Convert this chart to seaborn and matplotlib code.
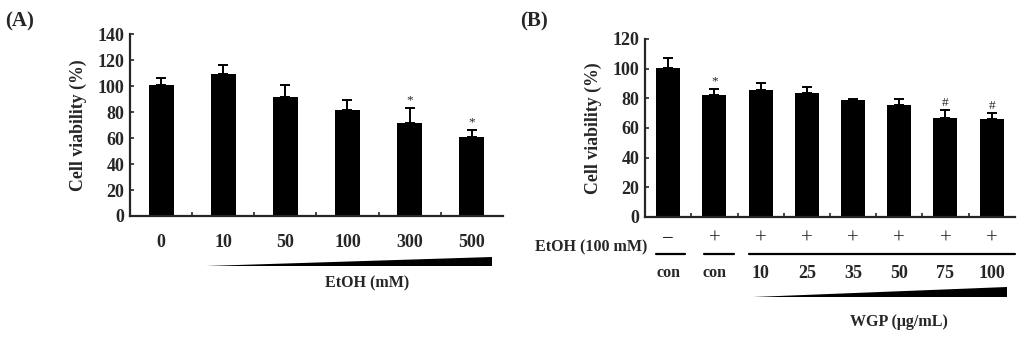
import numpy as np
import pandas as pd
import matplotlib
matplotlib.use('Agg')
import matplotlib.pyplot as plt
import matplotlib.transforms as mtransforms
import seaborn as sns

# panel A data
doses_a = ['0', '10', '50', '100', '300', '500']
mean_a = [100.5, 109.5, 91.5, 81.5, 71.5, 61.0]
sd_a = [5.5, 6.5, 9.0, 7.5, 12.0, 5.5]
mark_a = ['', '', '', '', '*', '*']

# panel B data
groups_b = ['con-', 'con+', '10', '25', '35', '50', '75', '100']
labels_b = ['con', 'con', '10', '25', '35', '50', '75', '100']
etoh_b = ['\u2212', '+', '+', '+', '+', '+', '+', '+']
mean_b = [100.5, 82.0, 85.5, 83.5, 78.5, 75.5, 66.5, 66.0]
sd_b = [6.5, 4.5, 4.5, 4.0, 1.0, 4.0, 5.5, 4.0]
mark_b = ['', '*', '', '', '', '', '#', '#']

sns.set_style('ticks')
plt.rcParams['font.family'] = ['Liberation Serif', 'DejaVu Serif']
plt.rcParams['font.weight'] = 'bold'

NUM = 13      # numeric labels
TXT = 11.5    # word labels

fig = plt.figure(figsize=(10.24, 3.38), dpi=100)
ax_a = fig.add_axes([0.127, 0.361, 0.364, 0.538])
ax_b = fig.add_axes([0.630, 0.358, 0.361, 0.527])


def draw_panel(ax, cats, means, sds, marks, width, ymax):
    df = pd.DataFrame({'group': cats, 'value': means})
    sns.barplot(data=df, x='group', y='value', order=cats, color='black',
                width=width, saturation=1, linewidth=0, ax=ax)
    x = np.arange(len(cats))
    ax.errorbar(x, means, yerr=[np.zeros(len(cats)), sds], fmt='none',
                ecolor='black', elinewidth=1.4, capsize=3.5, capthick=1.4)
    for xi, m, s, mk in zip(x, means, sds, marks):
        if mk:
            ax.text(xi, m + s + 1, mk, ha='center', va='bottom',
                    fontsize=9.5, fontweight='normal')
    ax.set_xlim(-0.5, len(cats) - 0.5)
    ax.set_ylim(0, ymax)
    ax.set_yticks(np.arange(0, ymax + 1, 20))
    ax.tick_params(axis='y', direction='in', length=3, width=1.2,
                   labelsize=NUM, pad=4)
    ax.set_xticks(np.arange(len(cats) - 1) + 0.5, minor=True)
    ax.tick_params(axis='x', which='minor', direction='in', length=3,
                   width=1.2)
    ax.set_xlabel('')
    ax.set_ylabel('Cell viability (%)', fontsize=12.8, fontweight='bold',
                  labelpad=8)
    for sp in ['left', 'bottom']:
        ax.spines[sp].set_linewidth(1.6)
    sns.despine(ax=ax)


draw_panel(ax_a, doses_a, mean_a, sd_a, mark_a, 0.4, 140)
ax_a.set_xticks(np.arange(len(doses_a)), doses_a)
ax_a.tick_params(axis='x', which='major', length=0, labelsize=NUM, pad=13)

draw_panel(ax_b, groups_b, mean_b, sd_b, mark_b, 0.52, 120)
ax_b.set_xticks([])

# panel A annotations
tr_a = mtransforms.blended_transform_factory(ax_a.transData, ax_a.transAxes)
ax_a.fill([0.73, 5.32, 5.32], [-0.275, -0.275, -0.225], color='black',
          transform=tr_a, clip_on=False, lw=0)
ax_a.text(3.32, -0.37, 'EtOH (mM)', transform=tr_a, ha='center',
          va='center', fontsize=TXT, fontweight='bold')

# panel B annotations
tr_b = mtransforms.blended_transform_factory(ax_b.transData, ax_b.transAxes)
ax_b.text(-0.46, -0.17, 'EtOH (100 mM)', transform=tr_b, ha='right',
          va='center', fontsize=TXT, fontweight='bold')
for i, (s, lab) in enumerate(zip(etoh_b, labels_b)):
    ax_b.text(i, -0.125, s, transform=tr_b, ha='center', va='center',
              fontsize=15, fontweight='normal')
    ax_b.text(i, -0.315, lab, transform=tr_b, ha='center', va='center',
              fontsize=NUM if lab != 'con' else TXT, fontweight='bold')
for x0, x1 in [(-0.26, 0.36), (0.78, 1.42), (1.75, 7.5)]:
    ax_b.plot([x0, x1], [-0.208, -0.208], color='black', lw=1.6,
              transform=tr_b, clip_on=False)
ax_b.fill([1.83, 7.33, 7.33], [-0.449, -0.449, -0.393], color='black',
          transform=tr_b, clip_on=False, lw=0)
ax_b.text(5.0, -0.59, 'WGP (\u03bcg/mL)', transform=tr_b, ha='center',
          va='center', fontsize=TXT, fontweight='bold')

fig.text(0.005, 0.935, '(A)', fontsize=15, fontweight='bold', va='center')
fig.text(0.508, 0.935, '(B)', fontsize=15, fontweight='bold', va='center')

fig.savefig('out.png', dpi=100)
